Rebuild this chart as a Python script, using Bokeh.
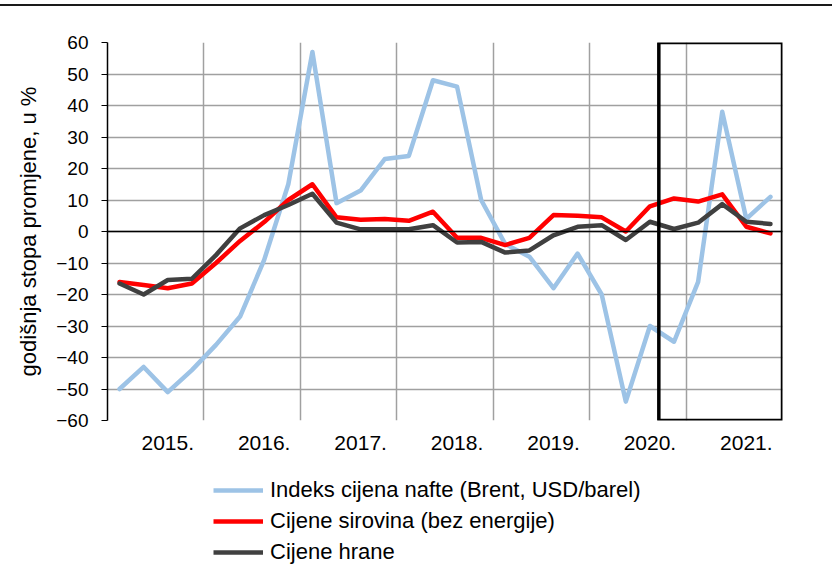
from bokeh.plotting import figure
from bokeh.models import (Range1d, FixedTicker, SingleIntervalTicker, Span, BoxAnnotation,
                          Legend, LegendItem, Div)
from bokeh.layouts import column
from bokeh.embed import file_html
from bokeh.resources import INLINE

# ---- data (quarterly, 2015Q1 .. 2021Q4) ----
year_labels = ["2015.", "2016.", "2017.", "2018.", "2019.", "2020.", "2021."]
oil = [-50, -43, -51, -44, -36, -27, -9, 15, 57, 9, 13, 23, 24, 48,
       46, 10, -4, -8, -18, -7, -20, -54, -30, -35, -16, 38, 4, 11]
raw = [-16, -17, -18, -16.5, -10, -3, 3, 10, 15, 4.5, 3.7, 4, 3.4, 6.3,
       -2, -2, -4.3, -2, 5.2, 5, 4.5, 0, 8, 10.5, 9.5, 11.8, 1.5, -0.6]
food = [-16.5, -20, -15.4, -15, -7.5, 1, 5.2, 8.4, 12, 2.8, 0.7, 0.7, 0.7, 2,
        -3.5, -3.3, -6.7, -6, -1.2, 1.5, 2, -2.7, 3.1, 0.8, 2.8, 8.7, 3.1, 2.4]
series_names = ["Indeks cijena nafte (Brent, USD/barel)",
                "Cijene sirovina (bez energije)",
                "Cijene hrane"]

x = list(range(len(oil)))
FONT = "Liberation Sans"
colors = ["#9DC3E6", "#FF0000", "#404040"]

p = figure(width=832, height=459, output_backend="svg", toolbar_location=None,
           x_range=Range1d(-0.5, 27.5), y_range=Range1d(-60, 60),
           frame_width=675, frame_height=378,
           min_border_left=107, min_border_right=50, min_border_top=36, min_border_bottom=45)
p.outline_line_color = None
p.background_fill_color = "white"

# grids
p.ygrid.ticker = SingleIntervalTicker(interval=10)
p.ygrid.grid_line_color = "#A0A0A0"
p.ygrid.grid_line_width = 1.5
p.xgrid.ticker = FixedTicker(ticks=[3.5 + 4 * k for k in range(7)])
p.xgrid.grid_line_color = "#A0A0A0"
p.xgrid.grid_line_width = 1.5
p.add_layout(Span(location=0, dimension="width", line_color="black", line_width=1.5))

# y axis
ya = p.yaxis[0]
ya.ticker = SingleIntervalTicker(interval=10)
ya.axis_line_color = "black"
ya.axis_line_width = 1.5
ya.major_tick_out = 6
ya.major_tick_in = 0
ya.major_tick_line_color = "black"
ya.minor_tick_line_color = None
ya.major_label_standoff = 13
ya.major_label_text_font = FONT
ya.major_label_text_font_size = "19px"
ya.major_label_text_color = "black"
ya.axis_label = "godišnja stopa promjene, u %"
ya.axis_label_text_font = FONT
ya.axis_label_text_font_size = "22px"
ya.axis_label_text_font_style = "normal"
ya.axis_label_text_color = "black"
ya.axis_label_standoff = 12

# x axis
xa = p.xaxis[0]
tick_pos = [2 + 4 * k for k in range(len(year_labels))]
xa.ticker = FixedTicker(ticks=tick_pos)
xa.major_label_overrides = {t: lab for t, lab in zip(tick_pos, year_labels)}
xa.axis_line_color = None
xa.major_tick_line_color = None
xa.minor_tick_line_color = None
xa.major_tick_out = 0
xa.major_label_standoff = 15
xa.major_label_text_font = FONT
xa.major_label_text_font_size = "21px"
xa.major_label_text_color = "black"

# lines
for ys, c in zip([oil, raw, food], colors):
    p.line(x, ys, line_color=c, line_width=4.5, line_join="round", line_cap="round")

# highlight box
p.add_layout(BoxAnnotation(left=22.37, right=27.5, bottom=-60, top=60,
                           fill_alpha=0, line_color="black", line_alpha=1, line_width=3.5))

# ---- legend in its own strip below the chart (frames aligned with chart) ----
lf = figure(width=832, height=108, output_backend="svg", toolbar_location=None,
            x_range=Range1d(0, 1), y_range=Range1d(0, 1),
            x_axis_location=None, y_axis_location=None,
            min_border_left=107, min_border_right=50, min_border_top=0, min_border_bottom=0)
lf.outline_line_color = None
lf.xgrid.visible = False
lf.ygrid.visible = False
nan = float("nan")
proxies = [lf.line([nan], [nan], line_color=c, line_width=4.5) for c in colors]
legend = Legend(items=[LegendItem(label=n, renderers=[r]) for n, r in zip(series_names, proxies)],
                location=(106, 8), orientation="vertical",
                label_text_font=FONT, label_text_font_size="22px", label_text_color="black",
                glyph_width=50, glyph_height=24, label_height=24, spacing=5,
                label_standoff=7, padding=0, margin=0,
                border_line_color=None, background_fill_alpha=0)
lf.add_layout(legend, "center")

top_line = Div(text="", width=832, height=2, margin=(4, 0, 0, 0),
               styles={"background-color": "#1a1a1a"})

layout = column(top_line, p, lf, spacing=0)
open("out.html", "w").write(file_html(layout, INLINE))
